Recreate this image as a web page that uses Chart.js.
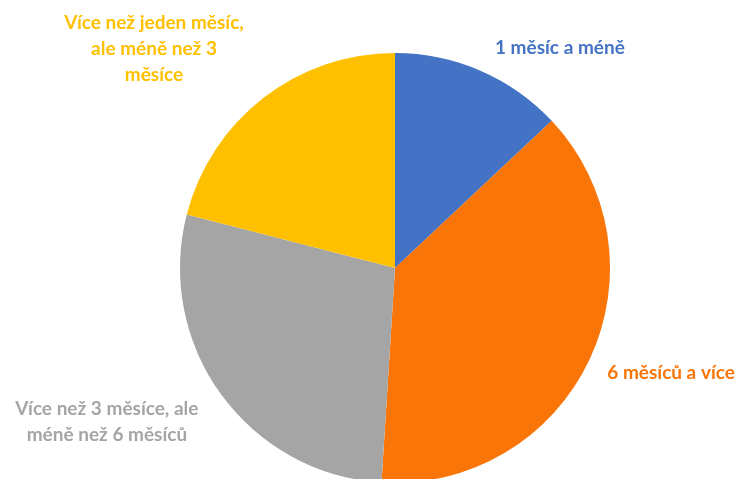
<!DOCTYPE html>
<html>
<head>
<meta charset="utf-8">
<script src="https://cdn.jsdelivr.net/npm/chart.js@4/dist/chart.umd.min.js"></script>
<style>
  html, body { margin: 0; padding: 0; background: #fff; overflow: hidden; }
</style>
</head>
<body>
<canvas id="pie" width="740" height="485"></canvas>
<script>
var categories = [
  "1 měsíc a méně",
  "6 měsíců a více",
  "Více než 3 měsíce, ale méně než 6 měsíců",
  "Více než jeden měsíc, ale méně než 3 měsíce"
];
var values = [13, 38, 28, 21];
var colors = ["#4472C4", "#F97508", "#A5A5A5", "#FFC000"];
var labelColors = ["#4472C4", "#F97508", "#A5A5A5", "#FFC000"];
// label lines, split as in the original
var labelLines = [
  ["1 měsíc a méně"],
  ["6 měsíců a více"],
  ["Více než 3 měsíce, ale", "méně než 6 měsíců"],
  ["Více než jeden měsíc,", "ale méně než 3", "měsíce"]
];
// offsets of the label centre from the pie centre, in radii
var labelPos = [[0.767, -1.023], [1.284, 0.488], [-1.34, 0.716], [-1.121, -1.019]];

var labelsPlugin = {
  id: 'pieLabels',
  afterDraw: function(chart) {
    var ctx = chart.ctx;
    var arc = chart.getDatasetMeta(0).data[0];
    var cx = arc.x, cy = arc.y, r = arc.outerRadius;
    ctx.save();
    ctx.font = "bold 19px Lato";
    ctx.textAlign = "center";
    ctx.textBaseline = "middle";
    for (var i = 0; i < labelLines.length; i++) {
      var lines = labelLines[i];
      var x = cx + labelPos[i][0] * r;
      var y = cy + labelPos[i][1] * r;
      var lh = 26;
      ctx.fillStyle = labelColors[i];
      for (var j = 0; j < lines.length; j++) {
        ctx.fillText(lines[j], x, y + (j - (lines.length - 1) / 2) * lh);
      }
    }
    ctx.restore();
  }
};

var ctx = document.getElementById('pie').getContext('2d');
var config = {
  type: 'pie',
  data: {
    labels: categories,
    datasets: [{
      data: values,
      backgroundColor: colors,
      borderWidth: 0
    }]
  },
  options: {
    responsive: false,
    animation: false,
    layout: { padding: { left: 180, right: 130, top: 53, bottom: 2 } },
    plugins: {
      legend: { display: false },
      tooltip: { enabled: false }
    }
  },
  plugins: [labelsPlugin]
};
window.myPie = new Chart(ctx, config);
</script>
</body>
</html>
